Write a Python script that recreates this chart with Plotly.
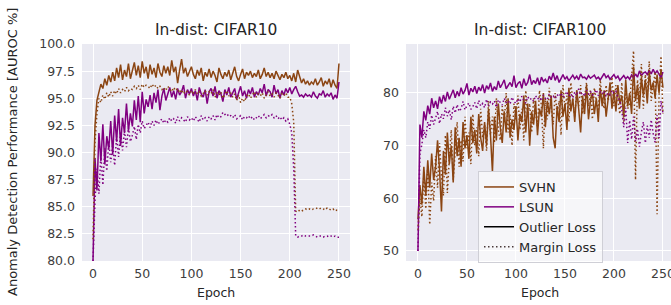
import plotly.graph_objects as go

# Epochs sampled every 2 epochs
epochs = list(range(0, 251, 2))

# ---- In-dist: CIFAR10 ----
c10_svhn_outlier = [
    86.0, 92.5, 94.8, 95.6, 96.3, 95.9, 96.8, 96.2, 97.1, 96.5,
    97.4, 96.6, 97.8, 96.9, 98.1, 96.7, 97.6, 97.0, 98.2, 96.8,
    97.5, 98.3, 97.1, 98.0, 96.9, 98.4, 97.3, 97.9, 96.8, 98.1,
    97.2, 97.8, 96.9, 98.2, 97.4, 97.0, 98.0, 97.3, 97.9, 97.1,
    98.5, 97.4, 97.9, 96.4, 97.6, 98.6, 97.3, 97.8, 97.0, 97.5,
    97.9, 97.2, 96.8, 97.6, 97.1, 97.8, 96.6, 97.4, 97.0, 97.7,
    96.9, 97.5, 97.1, 96.5, 97.8, 97.2, 96.8, 97.4, 97.0, 97.6,
    96.7, 97.3, 97.9, 97.0, 96.6, 97.2, 97.7, 96.8, 97.4, 97.1,
    97.5, 96.9, 97.3, 97.0, 97.6, 96.8, 97.2, 97.8, 97.0, 97.4,
    96.9, 97.3, 96.8, 97.5, 97.1, 96.7, 97.2, 96.9, 97.4, 96.8,
    97.1, 96.6, 97.3, 96.5, 97.6, 96.9, 96.4, 96.8, 96.3, 96.6,
    96.2, 96.5, 96.3, 96.8, 96.2, 96.5, 96.9, 96.1, 96.6, 96.3,
    96.8, 96.0, 96.7, 96.2, 95.9, 98.2,
]
c10_lsun_outlier = [
    80.0, 89.5, 86.5, 91.8, 89.2, 92.6, 88.9, 91.5, 90.3, 92.9,
    89.8, 93.4, 91.0, 94.0, 90.6, 93.2, 91.8, 94.5, 92.0, 93.6,
    92.4, 94.8, 93.0, 95.2, 92.8, 95.6, 93.6, 94.9, 94.2, 95.3,
    94.0, 95.5, 94.6, 95.8, 93.9, 95.2, 95.9, 94.8, 95.4, 96.0,
    95.1, 95.7, 94.9, 95.9, 95.3, 95.6, 96.2, 95.0, 95.8, 95.4,
    95.9, 95.2, 95.7, 94.8, 96.0, 95.4, 95.1, 95.8, 94.5, 95.6,
    95.9, 95.2, 96.1, 95.0, 95.7, 95.4, 94.7, 95.8, 95.3, 96.0,
    95.1, 95.6, 95.9, 94.9, 95.5, 96.1, 95.2, 95.7, 95.0, 95.8,
    95.4, 96.0, 95.1, 95.6, 95.3, 95.9, 95.5, 96.3, 95.2, 95.8,
    95.6, 95.1, 96.2, 95.4, 95.8, 95.0, 95.7, 95.3, 95.9, 95.5,
    96.0, 95.4, 95.8, 96.1, 95.6, 95.2, 95.3, 95.1, 95.4, 95.2,
    95.3, 95.1, 95.6, 95.2, 95.0, 95.4, 95.3, 95.7, 95.1, 95.4,
    95.2, 95.5, 94.9, 95.3, 95.0, 96.5,
]
c10_svhn_margin = [
    82.0, 91.0, 93.6, 95.0, 94.6, 95.3, 94.9, 95.5, 95.1, 95.6,
    95.2, 95.7, 95.4, 95.9, 95.5, 95.8, 95.6, 96.0, 95.7, 95.9,
    95.8, 96.1, 95.9, 96.2, 95.8, 96.3, 96.0, 96.2, 96.1, 95.9,
    96.3, 96.0, 96.2, 95.9, 96.1, 95.8, 96.0, 95.7, 96.1, 95.9,
    95.6, 96.0, 95.7, 95.9, 95.5, 95.8, 95.4, 95.7, 95.6, 95.3,
    95.7, 95.5, 95.8, 95.4, 95.6, 95.2, 95.5, 95.7, 95.3, 95.6,
    95.4, 95.8, 95.1, 95.5, 95.3, 95.6, 95.0, 95.4, 95.7, 95.2,
    95.5, 95.1, 95.4, 94.8, 95.3, 94.6, 95.0, 94.7, 95.2, 95.4,
    95.0, 95.3, 95.6, 95.1, 95.4, 95.2, 95.5, 95.0, 95.3, 95.6,
    95.2, 95.4, 95.1, 95.5, 95.3, 95.0, 95.4, 95.2, 95.5, 95.1,
    95.1, 94.5, 92.8, 84.6, 84.5, 84.7, 84.6, 84.7, 84.8, 84.7,
    84.8, 84.7, 84.8, 84.8, 84.9, 84.8, 84.9, 84.8, 84.7, 84.9,
    84.8, 84.7, 84.8, 84.6, 84.7, 84.7,
]
c10_lsun_margin = [
    80.0, 85.5, 88.5, 86.2, 89.8, 87.0, 90.4, 88.3, 91.0, 89.1,
    90.7, 88.8, 91.5, 89.6, 91.9, 90.2, 92.0, 90.5, 92.3, 91.0,
    91.6, 92.4, 91.2, 92.6, 91.8, 92.9, 92.2, 92.5, 92.8, 92.3,
    92.9, 92.5, 93.0, 92.6, 92.9, 93.1, 92.7, 93.0, 92.8, 93.2,
    92.9, 93.1, 92.7, 93.3, 92.9, 93.2, 93.0, 92.8, 93.3, 93.0,
    93.2, 92.9, 93.3, 93.1, 92.8, 93.4, 93.0, 93.2, 92.9, 93.3,
    93.1, 93.4, 93.0, 93.5, 93.2, 93.3, 93.7, 93.5, 93.6, 93.3,
    93.4, 93.2, 93.5, 93.1, 93.3, 93.4, 93.0, 93.3, 93.2, 93.4,
    93.1, 93.3, 93.0, 93.2, 93.4, 93.1, 93.3, 93.5, 93.2, 93.4,
    93.3, 93.5, 93.2, 93.4, 93.1, 93.3, 93.0, 93.2, 92.9, 93.1,
    92.6, 91.8, 88.5, 82.3, 82.2, 82.3, 82.3, 82.4, 82.3, 82.3,
    82.3, 82.3, 82.4, 82.3, 82.2, 82.3, 82.3, 82.2, 82.3, 82.3,
    82.2, 82.3, 82.2, 82.3, 82.2, 82.2,
]

# ---- In-dist: CIFAR100 ----
c100_svhn_outlier = [
    56.0, 62.5, 58.8, 66.0, 60.5, 67.2, 62.0, 68.5, 63.5, 66.0,
    71.0, 65.5, 57.5, 69.0, 64.5, 72.5, 66.5, 70.0, 63.0, 73.5,
    68.0, 71.5, 66.0, 74.5, 69.5, 72.0, 67.5, 75.5, 70.5, 73.0,
    68.5, 76.0, 71.5, 69.0, 74.5, 70.0, 77.0, 72.0, 65.0, 75.5,
    71.0, 78.0, 73.5, 70.5, 76.5, 72.5, 79.0, 71.5, 75.0, 73.0,
    77.5, 71.0, 76.0, 74.5, 79.5, 72.5, 78.0, 70.0, 76.5, 74.0,
    78.5, 72.0, 77.0, 75.5, 80.0, 73.5, 78.5, 76.0, 79.5, 71.5,
    69.5, 77.5, 74.5, 80.5, 75.5, 78.0, 73.0, 81.0, 76.5, 79.0,
    74.5, 80.5, 77.0, 72.5, 79.5, 76.0, 81.5, 75.0, 78.5, 80.0,
    76.0, 79.0, 74.5, 81.0, 77.5, 80.5, 75.5, 79.5, 82.0, 77.0,
    80.5, 76.5, 81.5, 78.0, 79.5, 75.5, 82.5, 77.5, 80.0, 76.0,
    85.0, 78.5, 81.5, 77.0, 83.0, 79.5, 82.5, 78.0, 84.0, 80.5,
    82.0, 79.0, 83.5, 80.0, 84.5, 81.0,
]
c100_lsun_outlier = [
    50.0, 74.0, 71.5, 76.5, 74.8, 77.6, 76.0, 79.0, 77.2, 78.5,
    77.0, 79.3, 78.0, 79.6, 78.4, 80.2, 78.8, 79.9, 80.6, 79.1,
    80.3, 79.4, 81.0, 79.8, 80.5, 81.8, 79.6, 80.9, 80.2, 81.3,
    79.9, 81.1, 80.4, 81.6, 80.0, 81.4, 80.7, 81.9, 80.3, 81.2,
    80.6, 82.3, 81.0, 81.7, 82.5, 80.8, 81.5, 82.0, 81.2, 83.3,
    81.0, 81.8, 82.2, 80.9, 82.7, 81.4, 82.0, 83.5, 81.6, 82.4,
    81.8, 82.9, 81.5, 83.0, 82.2, 82.6, 81.9, 83.2, 82.5, 83.8,
    82.4, 83.3, 82.0, 82.9, 83.5, 82.6, 83.1, 82.3, 82.8, 83.4,
    82.7, 83.2, 82.5, 83.6, 82.9, 83.0, 82.6, 83.3, 82.8, 83.1,
    83.4, 82.7, 83.0, 82.5, 83.2, 83.7, 82.9, 83.3, 82.6, 83.0,
    83.5, 82.8, 83.2, 82.4, 82.9, 83.3, 82.7, 83.1, 82.6, 83.4,
    82.9, 83.6, 83.0, 84.2, 83.3, 83.8, 84.0, 83.5, 84.3, 83.6,
    84.5, 83.7, 84.2, 83.4, 82.9, 84.0,
]
c100_svhn_margin = [
    54.0, 60.0, 56.5, 64.5, 58.0, 66.0, 55.0, 63.0, 59.5, 68.0,
    62.0, 70.5, 64.0, 60.5, 72.0, 61.0, 67.5, 73.0, 63.5, 69.0,
    74.5, 66.0, 71.0, 67.0, 75.5, 69.5, 72.5, 66.5, 76.0, 70.0,
    73.5, 68.0, 77.0, 71.5, 74.0, 69.0, 78.5, 72.0, 75.5, 70.5,
    79.0, 73.0, 71.0, 77.5, 74.5, 80.0, 72.5, 76.0, 70.0, 78.0,
    75.0, 79.5, 73.0, 77.0, 71.0, 80.5, 75.5, 78.0, 72.5, 79.0,
    76.5, 73.5, 80.5, 77.5, 69.5, 79.0, 75.0, 81.0, 77.0, 74.0,
    80.0, 76.0, 78.5, 72.0, 81.5, 77.0, 79.5, 74.5, 82.0, 78.0,
    75.5, 80.5, 77.5, 81.5, 76.0, 79.0, 82.0, 77.5, 80.5, 75.0,
    81.0, 78.5, 76.5, 82.5, 79.0, 77.0, 81.5, 78.5, 80.0, 83.0,
    77.5, 81.5, 79.0, 76.0, 82.0, 74.5, 80.5, 77.0, 78.0, 83.0,
    88.0, 63.5, 82.5, 79.0, 85.5, 77.0, 83.5, 80.0, 86.0, 78.5,
    81.5, 84.0, 57.0, 79.5, 87.0, 76.0,
]
c100_lsun_margin = [
    50.0, 68.5, 70.2, 73.0, 71.5, 74.5, 73.2, 75.8, 74.0, 75.3,
    76.5, 74.2, 76.0, 75.1, 77.2, 75.6, 76.8, 74.9, 77.5, 76.2,
    77.8, 76.5, 77.0, 78.4, 76.8, 77.6, 78.1, 76.9, 77.4, 78.2,
    77.0, 78.6, 77.5, 78.0, 77.2, 78.8, 77.6, 78.3, 77.9, 78.5,
    77.3, 78.7, 78.1, 77.7, 79.0, 78.2, 78.6, 77.9, 79.2, 78.4,
    78.0, 78.9, 78.3, 79.4, 78.6, 78.1, 79.3, 78.7, 79.0, 78.4,
    79.5, 78.8, 79.2, 78.5, 79.6, 79.0, 78.7, 79.8, 79.1, 79.4,
    78.9, 79.7, 79.3, 80.0, 79.2, 79.6, 80.3, 79.4, 79.9, 79.1,
    80.2, 79.5, 80.8, 79.7, 80.1, 79.4, 80.5, 79.8, 80.3, 79.6,
    80.0, 80.6, 79.5, 80.2, 79.8, 80.4, 79.3, 80.1, 79.7, 80.5,
    79.9, 80.3, 79.2, 78.5, 76.8, 73.5, 77.2, 70.5, 74.8, 71.2,
    75.5, 70.8, 73.2, 69.8, 72.6, 74.5, 70.5, 73.8, 71.5, 74.9,
    72.3, 70.6, 75.8, 71.4, 78.5, 76.2,
]

for s in [c10_svhn_outlier, c10_lsun_outlier, c10_svhn_margin, c10_lsun_margin,
          c100_svhn_outlier, c100_lsun_outlier, c100_svhn_margin, c100_lsun_margin]:
    assert len(s) == len(epochs), len(s)

titles = ["In-dist: CIFAR10", "In-dist: CIFAR100"]
legend_labels = ["SVHN", "LSUN", "Outlier Loss", "Margin Loss"]
y_title = "Anomaly Detection Performance [AUROC %]"
x_title = "Epoch"
x_ticks = [0, 50, 100, 150, 200, 250]
y_ticks_c10 = [80, 82.5, 85, 87.5, 90, 92.5, 95, 97.5, 100]
y_ticks_c100 = [50, 60, 70, 80]

BROWN = "#8B4513"
PURPLE = "#800080"
DOT = "1.5px,2.5px"
W, H = 671, 305
FONT = "DejaVu Sans"
TXT = "#262626"
TICK = "#3d3d3d"

fig = go.Figure()

def add(x, y, color, dash, xa, ya):
    fig.add_trace(go.Scatter(x=x, y=y, mode="lines", showlegend=False,
                             line=dict(color=color, width=1.5, dash=dash),
                             xaxis=xa, yaxis=ya, hoverinfo="skip"))

add(epochs, c10_svhn_outlier, BROWN, "solid", "x", "y")
add(epochs, c10_lsun_outlier, PURPLE, "solid", "x", "y")
add(epochs, c10_svhn_margin, BROWN, DOT, "x", "y")
add(epochs, c10_lsun_margin, PURPLE, DOT, "x", "y")

add(epochs, c100_svhn_outlier, BROWN, "solid", "x2", "y2")
add(epochs, c100_lsun_outlier, PURPLE, "solid", "x2", "y2")
add(epochs, c100_svhn_margin, BROWN, DOT, "x2", "y2")
add(epochs, c100_lsun_margin, PURPLE, DOT, "x2", "y2")

# legend-only entries
for name, color, dash in zip(legend_labels, [BROWN, PURPLE, "#000000", "#4a3a3a"],
                             ["solid", "solid", "solid", DOT]):
    fig.add_trace(go.Scatter(x=[None], y=[None], mode="lines", name=name,
                             line=dict(color=color, width=1.5, dash=dash),
                             xaxis="x2", yaxis="y2", showlegend=True))

ydom = [1 - 261 / H, 1 - 44 / H]
ax_common = dict(showgrid=True, gridcolor="white", gridwidth=1, zeroline=False,
                 showline=False, ticks="", automargin=False, ticklabeloverflow="allow",
                 tickfont=dict(family=FONT, size=12.5, color=TICK))

fig.update_layout(
    width=W, height=H,
    margin=dict(l=0, r=0, t=0, b=0, autoexpand=False),
    paper_bgcolor="white", plot_bgcolor="#EAEAF2",
    font=dict(family=FONT, color=TXT),
    xaxis=dict(domain=[82 / W, 350 / W], range=[-11.2, 261.2], anchor="y",
               tickvals=x_ticks, ticklabelstandoff=3, **ax_common),
    yaxis=dict(domain=ydom, range=[80, 100], anchor="x",
               tickvals=y_ticks_c10, tickformat=".1f",
               ticklabelstandoff=6, **ax_common),
    xaxis2=dict(domain=[406 / W, 1.0], range=[-12.2, 258.2], anchor="y2",
                tickvals=x_ticks, ticklabelstandoff=3, **ax_common),
    yaxis2=dict(domain=ydom, range=[48.1, 89.3], anchor="x2",
                tickvals=y_ticks_c100, ticklabelstandoff=6, **ax_common),
    legend=dict(x=478 / W, y=1 - 171 / H, xanchor="left", yanchor="top",
                bgcolor="rgba(255,255,255,0.55)", bordercolor="#cfcfd6", borderwidth=1,
                font=dict(family=FONT, size=13, color=TXT), tracegroupgap=0,
                itemwidth=30),
    showlegend=True,
    annotations=[
        dict(text=titles[0], x=216 / W, y=1 - 30 / H, xref="paper", yref="paper",
             showarrow=False, xanchor="center", yanchor="middle",
             font=dict(family=FONT, size=15.5, color=TXT)),
        dict(text=titles[1], x=540 / W, y=1 - 30 / H, xref="paper", yref="paper",
             showarrow=False, xanchor="center", yanchor="middle",
             font=dict(family=FONT, size=15.5, color=TXT)),
        dict(text=x_title, x=216 / W, y=1 - 292 / H, xref="paper", yref="paper",
             showarrow=False, xanchor="center", yanchor="middle",
             font=dict(family=FONT, size=12.5, color=TXT)),
        dict(text=x_title, x=540 / W, y=1 - 292 / H, xref="paper", yref="paper",
             showarrow=False, xanchor="center", yanchor="middle",
             font=dict(family=FONT, size=12.5, color=TXT)),
        dict(text=y_title, x=12 / W, y=1 - 152 / H, xref="paper", yref="paper",
             showarrow=False, xanchor="center", yanchor="middle", textangle=-90,
             font=dict(family=FONT, size=13, color=TXT)),
    ],
)

fig.write_html(
    "out.html",
    config={"displayModeBar": False},
    post_script="document.body.style.margin='0px';document.body.style.overflow='hidden';",
)
